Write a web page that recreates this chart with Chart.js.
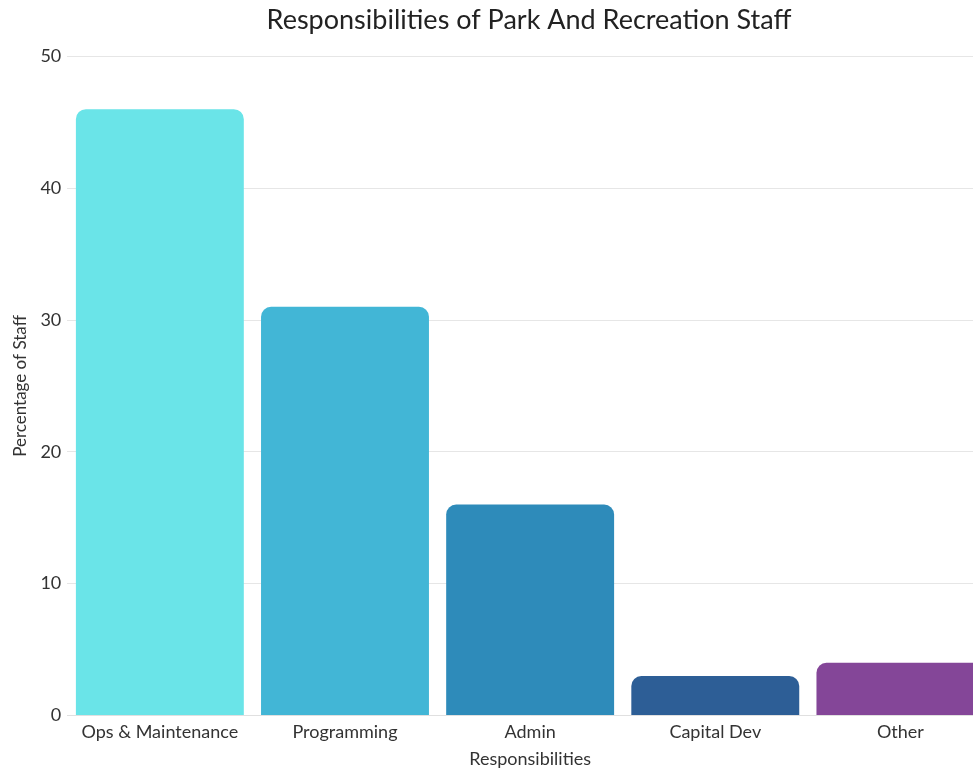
<!DOCTYPE html>
<html>
<head>
<meta charset="utf-8">
<script src="https://cdn.jsdelivr.net/npm/chart.js@4"></script>
<style>
  html, body { margin: 0; padding: 0; background: #fff; overflow: hidden; }
  #wrap { position: absolute; left: 0; top: 0; width: 1058px; height: 769px; }
</style>
</head>
<body>
<div id="wrap"><canvas id="c"></canvas></div>
<script>
const categories = ["Ops & Maintenance", "Programming", "Admin", "Capital Dev", "Other"];
const percentages = [46, 31, 16, 3, 4];
const barColors = ["#6ae4e8", "#42b6d6", "#2e8bba", "#2d5e96", "#844698"];
const yTicks = [0, 10, 20, 30, 40, 50];

Chart.defaults.font.family = "Lato, 'Open Sans', sans-serif";
Chart.defaults.color = "#333";

new Chart(document.getElementById("c"), {
  type: "bar",
  data: {
    labels: categories,
    datasets: [{
      label: "Percentage of Staff",
      data: percentages,
      backgroundColor: barColors,
      borderRadius: 10,
      borderSkipped: "start",
      barPercentage: 0.907,
      categoryPercentage: 1.0
    }]
  },
  options: {
    responsive: true,
    maintainAspectRatio: false,
    animation: false,
    layout: { padding: { top: 0, right: 0, bottom: 0, left: 0 } },
    plugins: {
      legend: { display: false },
      tooltip: { enabled: false },
      title: {
        display: true,
        text: "Responsibilities of Park And Recreation Staff",
        color: "#222",
        font: { size: 27, weight: "normal" },
        padding: { top: 4, bottom: 20 }
      }
    },
    scales: {
      x: {
        grid: { display: false, drawTicks: false },
        border: { display: true, color: "#e0e0e0" },
        ticks: { font: { size: 18 }, color: "#333", padding: 6 },
        title: { display: true, text: "Responsibilities", font: { size: 18, lineHeight: 1.05 }, color: "#333", padding: { top: 1, bottom: 0 } }
      },
      y: {
        min: 0,
        max: 50,
        afterBuildTicks: (axis) => { axis.ticks = yTicks.map(v => ({ value: v })); },
        grid: { color: "#e6e6e6", drawTicks: false },
        border: { display: false },
        ticks: { font: { size: 18 }, color: "#333", padding: 6 },
        title: { display: true, text: "Percentage of Staff", font: { size: 17 }, color: "#333", padding: { top: 10, bottom: 4 } }
      },
      yRight: {
        position: "right",
        display: true,
        grid: { display: false, drawTicks: false },
        border: { display: false },
        ticks: { display: false },
        afterFit: (s) => { s.width = 65; }
      }
    }
  }
});
</script>
</body>
</html>
